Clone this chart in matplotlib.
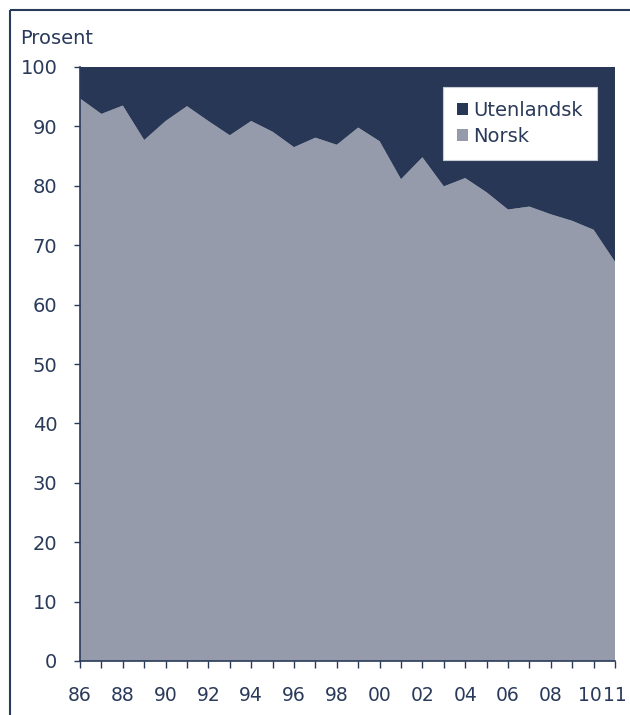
import matplotlib
matplotlib.use("Agg")
import matplotlib.pyplot as plt
from matplotlib.patches import Patch
from matplotlib.lines import Line2D
from matplotlib.transforms import ScaledTranslation

years = ["86", "87", "88", "89", "90", "91", "92", "93", "94", "95", "96", "97", "98",
         "99", "00", "01", "02", "03", "04", "05", "06", "07", "08", "09", "10", "11"]
norsk = [94.7, 92.1, 93.5, 87.7, 90.9, 93.4, 90.9, 88.5, 90.9, 89.1, 86.5, 88.1, 86.9,
         89.8, 87.5, 81.1, 84.8, 79.9, 81.3, 78.9, 76.0, 76.5, 75.2, 74.1, 72.6, 67.2]
utenlandsk = [100 - v for v in norsk]
tick_labels = ["86", "88", "90", "92", "94", "96", "98", "00", "02", "04", "06", "08", "10", "11"]
yticks = [0, 10, 20, 30, 40, 50, 60, 70, 80, 90, 100]

navy = "#293756"
gray = "#959bab"
txt = "#2a3a5a"
fs = 14

plt.rcParams['font.family'] = ['DejaVu Sans']

fig = plt.figure(figsize=(6.3, 7.15), dpi=100)
ax = fig.add_axes([80/630, 54/715, 535/630, 594/715])

x = list(range(len(years)))
ax.stackplot(x, norsk, utenlandsk, colors=[gray, navy], linewidth=0)

ax.set_xlim(0, len(years) - 1)
ax.set_ylim(0, 100)
ax.set_yticks(yticks)
ax.set_yticklabels([str(v) for v in yticks], fontsize=fs, color=txt)
ax.set_xticks(x)
ax.set_xticklabels([y if y in tick_labels else "" for y in years], fontsize=13.5, color=txt)

ax.tick_params(axis='y', direction='out', length=4.3, width=1, color=txt, pad=12)
ax.tick_params(axis='x', direction='out', length=5, width=1, color=txt, pad=13)
for s in ['top', 'right']:
    ax.spines[s].set_visible(False)
for s in ['left', 'bottom']:
    ax.spines[s].set_color(txt)
    ax.spines[s].set_linewidth(1.2)

# nudge the crowded last two labels apart (as in the reference "1011")
labels = ax.get_xticklabels()
labels[-2].set_transform(labels[-2].get_transform() + ScaledTranslation(-4/100, 0, fig.dpi_scale_trans))
labels[-1].set_transform(labels[-1].get_transform() + ScaledTranslation(-0.5/100, 0, fig.dpi_scale_trans))

fig.text(20/630, 1 - 38/715, "Prosent", fontsize=fs, color=txt, va='center', ha='left')

handles = [Patch(facecolor=navy, edgecolor='none', label="Utenlandsk"),
           Patch(facecolor=gray, edgecolor='none', label="Norsk")]
leg = ax.legend(handles=handles, loc='upper right', bbox_to_anchor=(0.966, 0.966),
                fontsize=fs, frameon=True, fancybox=False, framealpha=1,
                borderpad=0.7, handlelength=0.57, handleheight=0.57, handletextpad=0.3,
                labelspacing=0.38, borderaxespad=0)
leg.get_frame().set_facecolor("white")
leg.get_frame().set_edgecolor("#c8ccd6")
leg.get_frame().set_linewidth(0.8)
for t in leg.get_texts():
    t.set_color(txt)

# figure frame lines (top and left)
fig.add_artist(Line2D([10/630, 1], [1 - 10/715, 1 - 10/715], color=txt, lw=1.5,
                      solid_capstyle='butt', transform=fig.transFigure))
fig.add_artist(Line2D([10/630, 10/630], [0, 1 - 10/715], color=txt, lw=1.5,
                      solid_capstyle='butt', transform=fig.transFigure))

fig.savefig("out.png", dpi=100)
